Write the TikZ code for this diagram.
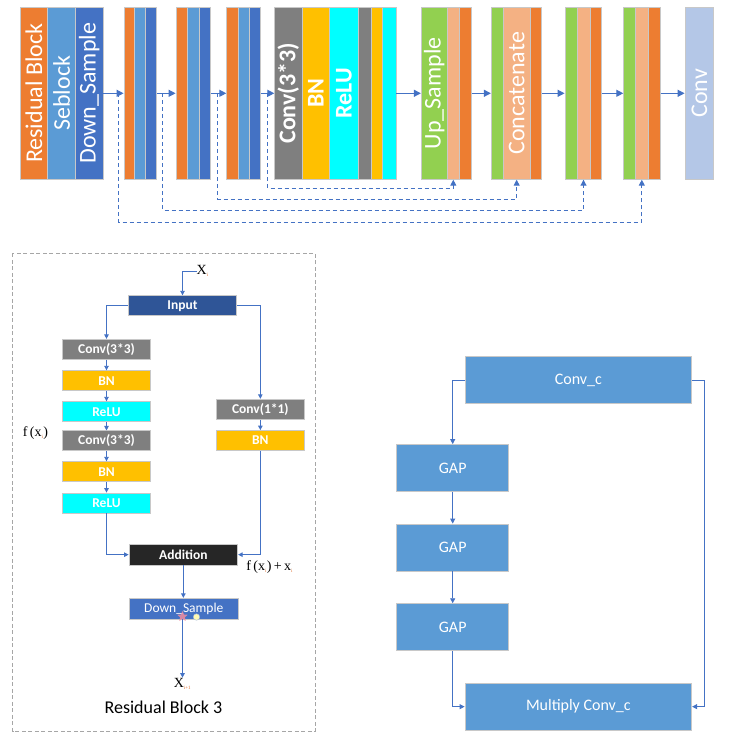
\documentclass[tikz,border=0pt]{standalone}
\usepackage{fontspec}
\setmainfont{Carlito}
\newfontfamily\tms{Liberation Serif}
\usepackage{graphicx}
\usetikzlibrary{arrows.meta,shapes.geometric}
\definecolor{cOr}{HTML}{ED7D31}
\definecolor{cLb}{HTML}{5B9BD5}
\definecolor{cDb}{HTML}{4472C4}
\definecolor{cGr}{HTML}{7F7F7F}
\definecolor{cYe}{HTML}{FFC000}
\definecolor{cCy}{HTML}{00FFFF}
\definecolor{cGn}{HTML}{92D050}
\definecolor{cLo}{HTML}{F4B183}
\definecolor{cCv}{HTML}{B4C7E7}
\definecolor{cIn}{HTML}{2F5597}
\definecolor{cAd}{HTML}{262626}
\definecolor{cBd}{HTML}{C8C8C8}
\definecolor{cLn}{HTML}{4472C4}
\definecolor{cFr}{HTML}{A6A6A6}
\definecolor{cSub}{HTML}{E07030}
\definecolor{cStar}{HTML}{F08CA0}
\newcommand{\sub}[1]{\textsubscript{\fontsize{5}{5}\selectfont\color{cSub}#1}}
\begin{document}
\begin{tikzpicture}[x=1pt,y=-1pt,
  strip/.style={draw=cBd, line width=0.8pt, inner sep=0, minimum height=172pt, text=white, font=\fontsize{24}{28}\selectfont},
  flow/.style={draw=cLn, line width=1.2pt, -{Triangle[length=7pt,width=7pt]}},
  skip/.style={draw=cLn, line width=1pt, dash pattern=on 4pt off 3pt, -{Triangle[length=6pt,width=6pt]}},
  rbox/.style={draw=cBd, line width=0.8pt, inner sep=0, minimum width=87.5pt, minimum height=20pt, text=white, font=\fontsize{13.5}{15}\selectfont\bfseries},
  rarr/.style={draw=cLn, line width=0.9pt, -{Triangle[length=4.5pt,width=4.5pt]}},
  sbox/.style={draw=cBd, fill=cLb, line width=0.8pt, inner sep=0, minimum height=47pt, text=white, font=\fontsize{16}{19}\selectfont},
  sarr/.style={draw=cLn, line width=0.9pt, -{Triangle[length=5pt,width=5pt]}},
  mlab/.style={inner sep=0, font=\tms\fontsize{14}{16}\selectfont}
]
\useasboundingbox (0,0) rectangle (729,753);
% ---------- top row ----------
\node[strip, fill=cOr, minimum width=26.6pt] (b1o) at (34,93.3) {\rotatebox{90}{Residual Block}};
\node[strip, fill=cLb, minimum width=28.4pt] (b1l) at (61.5,93.3) {\rotatebox{90}{Seblock}};
\node[strip, fill=cDb, minimum width=27.3pt] (b1d) at (89.35,93.3) {\rotatebox{90}{Down\_Sample}};
\node[strip, fill=cOr, minimum width=10pt] (b2o) at (129,93.3) {};
\node[strip, fill=cLb, minimum width=11.3pt] (b2l) at (139.65,93.3) {};
\node[strip, fill=cDb, minimum width=11.4pt] (b2d) at (151,93.3) {};
\node[strip, fill=cOr, minimum width=11.7pt] (b3o) at (181.85,93.3) {};
\node[strip, fill=cLb, minimum width=11.3pt] (b3l) at (193.35,93.3) {};
\node[strip, fill=cDb, minimum width=11.7pt] (b3d) at (204.85,93.3) {};
\node[strip, fill=cOr, minimum width=11.3pt] (b4o) at (232.35,93.3) {};
\node[strip, fill=cLb, minimum width=11pt] (b4l) at (243.5,93.3) {};
\node[strip, fill=cDb, minimum width=11.7pt] (b4d) at (254.85,93.3) {};
\node[strip, fill=cGr, minimum width=27.3pt, font=\fontsize{24}{28}\selectfont\bfseries] (b5a) at (288.35,93.3) {\rotatebox{90}{Conv(3*3)}};
\node[strip, fill=cYe, minimum width=27.7pt, font=\fontsize{24}{28}\selectfont\bfseries] (b5b) at (315.85,93.3) {\rotatebox{90}{BN}};
\node[strip, fill=cCy, minimum width=28.3pt, font=\fontsize{24}{28}\selectfont\bfseries] (b5c) at (343.85,93.3) {\rotatebox{90}{ReLU}};
\node[strip, fill=cGr, minimum width=13pt] (b5d) at (364.5,93.3) {};
\node[strip, fill=cYe, minimum width=11.7pt] (b5e) at (376.85,93.3) {};
\node[strip, fill=cCy, minimum width=13.3pt] (b5f) at (389.35,93.3) {};
\node[strip, fill=cGn, minimum width=26pt] (b6g) at (434.3,93.3) {\rotatebox{90}{Up\_Sample}};
\node[strip, fill=cLo, minimum width=12pt] (b6l) at (453.3,93.3) {};
\node[strip, fill=cOr, minimum width=12pt] (b6o) at (465.3,93.3) {};
\node[strip, fill=cGn, minimum width=12pt] (b7g) at (497.3,93.3) {};
\node[strip, fill=cLo, minimum width=26.7pt] (b7l) at (516.65,93.3) {\rotatebox{90}{Concatenate}};
\node[strip, fill=cOr, minimum width=11.7pt] (b7o) at (535.85,93.3) {};
\node[strip, fill=cGn, minimum width=12pt] (b8g) at (571,93.3) {};
\node[strip, fill=cLo, minimum width=13pt] (b8l) at (583.5,93.3) {};
\node[strip, fill=cOr, minimum width=11.3pt] (b8o) at (595.65,93.3) {};
\node[strip, fill=cGn, minimum width=11.6pt] (b9g) at (629.5,93.3) {};
\node[strip, fill=cLo, minimum width=13pt] (b9l) at (641.8,93.3) {};
\node[strip, fill=cOr, minimum width=12pt] (b9o) at (654.3,93.3) {};
\node[strip, fill=cCv, minimum width=28.7pt] (b10) at (699.35,93.3) {\rotatebox{90}{Conv}};
\draw[flow] (b1d.east) -- (b2o.west);
\draw[flow] (b2d.east) -- (b3o.west);
\draw[flow] (b3d.east) -- (b4o.west);
\draw[flow] (b4d.east) -- (b5a.west);
\draw[flow] (b5f.east) -- (b6g.west);
\draw[flow] (b6o.east) -- (b7g.west);
\draw[flow] (b7o.east) -- (b8g.west);
\draw[flow] (b8o.east) -- (b9g.west);
\draw[flow] (b9o.east) -- (b10.west);
\coordinate (s1) at (118.7,93.3);
\coordinate (s2) at (162.3,93.3);
\coordinate (s3) at (217.3,93.3);
\coordinate (s4) at (267.7,93.3);
\draw[skip] (s1) -- ++(0,129) -| (b9l.south);
\draw[skip] (s2) -- ++(0,116.7) -| (b8l.south);
\draw[skip] (s3) -- ++(0,105.7) -| (b7l.south);
\draw[skip] (s4) -- ++(0,95) -| (b6l.south);
% ---------- residual block ----------
\draw[cFr, line width=0.9pt, dash pattern=on 4pt off 2.5pt] (12.7,253.3) rectangle (315,731.7);
\node[rbox, fill=cIn, minimum width=108.4pt] (inp) at (182.5,305.7) {Input};
\node[rbox, fill=cGr] (lc1) at (106.5,349.3) {Conv(3*3)};
\node[rbox, fill=cYe] (lb1) at (106.5,380.7) {BN};
\node[rbox, fill=cCy] (lr1) at (106.5,411.7) {ReLU};
\node[rbox, fill=cGr] (lc2) at (106.5,440.85) {Conv(3*3)};
\node[rbox, fill=cYe] (lb2) at (106.5,471.7) {BN};
\node[rbox, fill=cCy] (lr2) at (106.5,503) {ReLU};
\node[rbox, fill=cGr] (rc) at (260.35,409.2) {Conv(1*1)};
\node[rbox, fill=cYe] (rb) at (260.35,440.5) {BN};
\node[rbox, fill=cAd, minimum width=108.7pt, minimum height=20.7pt] (add) at (183.35,554.65) {Addition};
\node[rbox, fill=cDb, minimum width=109pt, minimum height=20.7pt, font=\fontsize{13.5}{15}\selectfont] (dwn) at (183.8,608.65) {Down\_Sample};
\node[star, star points=5, star point ratio=2.2, fill=cStar, draw=none, minimum size=11pt, inner sep=0, opacity=0.85] (art1) at (182.5,616.5) {};
\node[circle, fill=yellow!30!white, draw=cDb!50, line width=0.4pt, minimum size=6.5pt, inner sep=0] (art2) at (196.5,617) {};
\node[mlab, anchor=west] (xi) at (196.5,271) {X\sub{i}};
\node[mlab] (xo) at (182.5,683.5) {X\sub{i+1}};
\node[mlab] (fx) at (35.5,433) {f\,(x\sub{i})};
\node[mlab] (fxx) at (269.7,566.7) {f\,(x\sub{i})\,+\,x\sub{i}};
\node[font=\fontsize{18}{21}\selectfont, inner sep=0] (rbt) at (163.5,707.3) {Residual Block 3};
\draw[rarr] (xi.west) -| (inp.north);
\draw[rarr] (inp.west) -| (lc1.north);
\draw[rarr] (inp.east) -| (rc.north);
\draw[rarr] (lc1) -- (lb1);
\draw[rarr] (lb1) -- (lr1);
\draw[rarr] (lr1) -- (lc2);
\draw[rarr] (lc2) -- (lb2);
\draw[rarr] (lb2) -- (lr2);
\draw[rarr] (rc) -- (rb);
\draw[rarr] (lr2.south) |- (add.west);
\draw[rarr] (rb.south) |- (add.east);
\draw[rarr] (add.south) -- (add.south |- dwn.north);
\draw[rarr] (dwn.south -| xo.north) -- (xo.north);
% ---------- SE block ----------
\node[sbox, minimum width=226.7pt] (convc) at (578.35,380.35) {Conv\_c};
\node[sbox, minimum width=112pt] (gap1) at (452.7,468) {GAP};
\node[sbox, minimum width=112pt] (gap2) at (452.7,547.5) {GAP};
\node[sbox, minimum width=112pt] (gap3) at (452.7,627.15) {GAP};
\node[sbox, minimum width=226.7pt] (mult) at (578.35,706.65) {Multiply Conv\_c};
\draw[sarr] (convc.west) -| (gap1.north);
\draw[sarr] (gap1) -- (gap2);
\draw[sarr] (gap2) -- (gap3);
\draw[sarr] (gap3.south) |- (mult.west);
\draw[sarr] (convc.east) -- ++(12.3,0) |- (mult.east);
\end{tikzpicture}
\end{document}
